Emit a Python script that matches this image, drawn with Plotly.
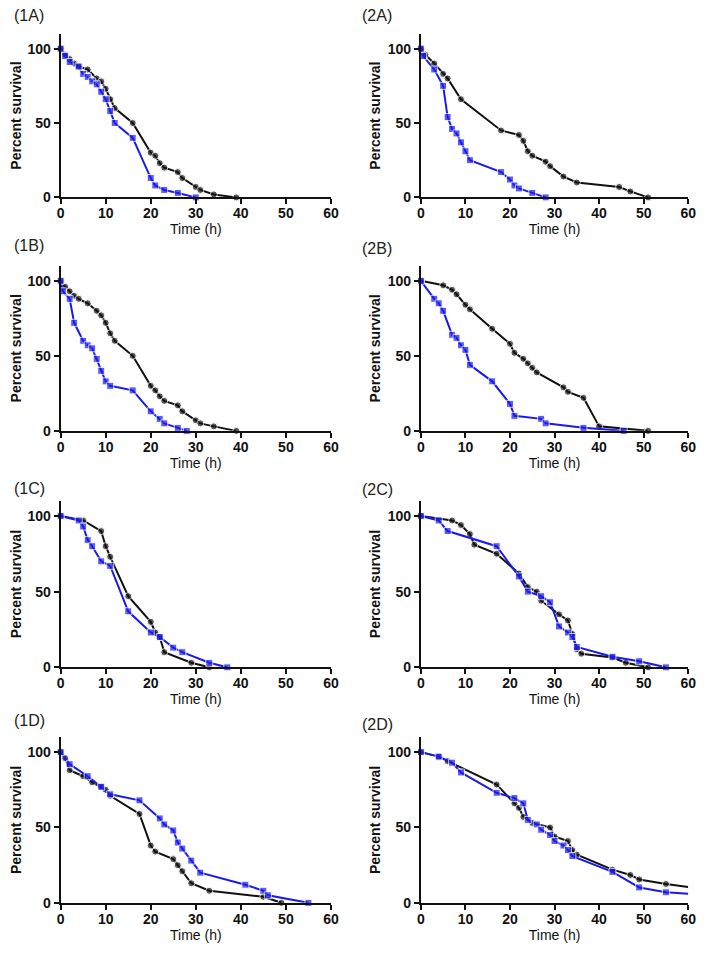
import plotly.graph_objects as go

# ---------------- data ----------------
panel_labels = ["(1A)", "(2A)", "(1B)", "(2B)", "(1C)", "(2C)", "(1D)", "(2D)"]
x_ticks = [0, 10, 20, 30, 40, 50, 60]
y_ticks = [0, 50, 100]

# 1A
black_1A_x = [0, 1, 2, 3, 4, 6, 8, 9, 10, 11, 12, 16, 20, 21, 22, 23, 26, 27, 30, 31, 34, 39]
black_1A_y = [100, 96, 93, 90, 88, 86, 80, 78, 73, 66, 60, 50, 30, 28, 23, 20, 17, 13, 7, 5, 2, 0]
blue_1A_x = [0, 1, 2, 4, 5, 6, 7, 8, 9, 10, 11, 12, 16, 20, 21, 23, 26, 30]
blue_1A_y = [100, 95, 91, 88, 83, 81, 78, 76, 71, 66, 58, 50, 40, 13, 8, 5, 3, 0]

# 2A
black_2A_x = [0, 1, 3, 5, 6, 9, 18, 22, 23, 24, 25, 28, 29, 32, 35, 44.5, 47, 51]
black_2A_y = [100, 96, 90, 83, 80, 66, 45, 42, 38, 31, 28, 24, 21, 14, 10, 7, 4, 0]
blue_2A_x = [0, 0.5, 3, 5, 6, 7, 8, 9, 10, 11, 18, 20, 21, 22, 25, 28]
blue_2A_y = [100, 95, 86, 75, 54, 46, 43, 37, 31, 25, 17, 12, 8, 6, 3, 0]

# 1B
black_1B_x = [0, 1, 2, 3, 4, 6, 8, 9, 10, 11, 12, 16, 20, 21, 22, 23, 26, 27, 30, 31, 34, 39]
black_1B_y = [100, 96, 93, 90, 88, 85, 80, 77, 72, 65, 60, 50, 30, 27, 23, 20, 17, 13, 7, 5, 3, 0]
blue_1B_x = [0, 0.5, 2, 3, 5, 6, 7, 8, 9, 10, 11, 16, 20, 22, 23, 26, 28]
blue_1B_y = [100, 93, 88, 72, 60, 57, 55, 48, 40, 33, 30, 27, 13, 8, 5, 2, 0]

# 2B
black_2B_x = [0, 5, 7, 8, 10, 11, 16, 20, 21, 23, 24, 25, 26, 32, 33, 36.5, 40, 51]
black_2B_y = [100, 97, 94, 91, 84, 81, 68, 58, 52, 48, 45, 42, 39, 29, 26, 22, 3, 0]
blue_2B_x = [0, 3, 4, 5, 7, 8, 9, 10, 11, 16, 20, 21, 27, 28, 36.5, 45.5]
blue_2B_y = [100, 88, 85, 80, 64, 62, 57, 54, 44, 33, 18, 10, 8, 5, 2, 0]

# 1C
black_1C_x = [0, 5, 9, 10, 11, 15, 20, 21, 22, 23, 29, 33]
black_1C_y = [100, 97, 90, 80, 73, 47, 30, 23, 20, 10, 3, 0]
blue_1C_x = [0, 4, 5, 6, 7, 9, 11, 15, 20, 22, 25, 27, 33, 37]
blue_1C_y = [100, 97, 93, 84, 80, 70, 67, 37, 23, 20, 13, 10, 3, 0]

# 2C
black_2C_x = [0, 7, 9, 11, 12, 17, 22, 24, 26, 27, 31, 33, 34, 35, 36, 43, 46, 51]
black_2C_y = [100, 97, 94, 88, 81, 75, 62, 53, 50, 44, 35, 31, 22, 12, 9, 6.5, 3, 0]
blue_2C_x = [0, 4, 6, 17, 22, 24, 27, 29, 31, 33, 34, 35, 43, 49, 55]
blue_2C_y = [100, 97, 90, 80, 60, 50, 47, 43, 27, 23, 20, 13.5, 7, 4, 0]

# 1D
black_1D_x = [0, 1, 2, 5, 7, 9, 10, 11, 17.5, 20, 21, 25, 26, 27, 29, 33, 45, 49]
black_1D_y = [100, 96, 88, 84, 80, 77, 75, 71, 59, 38, 34, 29, 25, 21, 13, 8, 4, 0]
blue_1D_x = [0, 2, 6, 9, 11, 17.5, 22, 23, 25, 26, 27, 29, 31, 41, 45, 46, 55]
blue_1D_y = [100, 92, 84, 77, 72, 68, 56, 52, 48, 40, 36, 28, 20, 12, 8, 5, 0]

# 2D (curves continue to the right edge of the axis)
black_2D_x = [0, 4, 6, 17, 21, 22, 23, 25, 29, 30, 33, 34, 35, 43, 47, 49, 55, 60]
black_2D_y = [100, 97, 94, 78.5, 66, 63, 57, 53, 50, 44, 41, 35, 32, 22, 18.5, 15.5, 12.5, 10.5]
blue_2D_x = [0, 4, 7, 9, 17, 21, 23, 24, 26, 27, 29, 30, 32, 33, 34, 43, 49, 55, 60]
blue_2D_y = [100, 97, 93, 86.5, 73, 69.5, 66, 55, 52, 48.5, 45, 41, 38, 35, 31, 20.5, 10.2, 7, 6]

black_series = [(black_1A_x, black_1A_y), (black_2A_x, black_2A_y),
                (black_1B_x, black_1B_y), (black_2B_x, black_2B_y),
                (black_1C_x, black_1C_y), (black_2C_x, black_2C_y),
                (black_1D_x, black_1D_y), (black_2D_x, black_2D_y)]
blue_series = [(blue_1A_x, blue_1A_y), (blue_2A_x, blue_2A_y),
               (blue_1B_x, blue_1B_y), (blue_2B_x, blue_2B_y),
               (blue_1C_x, blue_1C_y), (blue_2C_x, blue_2C_y),
               (blue_1D_x, blue_1D_y), (blue_2D_x, blue_2D_y)]

# ---------------- layout geometry ----------------
# The page body has an 8px default margin, so the figure starts at (8, 8).
OFF = 8
W, H = 709 - OFF, 956 - 2 * OFF


def px_x(p):
    return (p - OFF) / W


def px_y(p):
    return 1 - (p - OFF) / H


col_px = [(57.5, 332.5), (424, 696)]
row_px = [(34, 199), (268, 434.5), (505, 673), (743.3, 910.5)]  # (top, bottom) pixel rows
label_px = [(3, 16), (362, 16), (3, 248), (362, 251), (3, 493), (362, 494), (3, 727), (362, 731)]

BLACK = "#111111"
BLUE = "#1a1aee"
FONT = "Liberation Sans, Arial, sans-serif"

fig = go.Figure()
layout = dict(width=W, height=H, margin=dict(l=0, r=0, t=0, b=0),
              paper_bgcolor="white", plot_bgcolor="white", showlegend=False,
              annotations=[])

for i in range(8):
    r, c = divmod(i, 2)
    n = i + 1
    xa = "x" if n == 1 else f"x{n}"
    ya = "y" if n == 1 else f"y{n}"
    top, bot = row_px[r]
    left, right = col_px[c]
    xkey = "xaxis" if n == 1 else f"xaxis{n}"
    ykey = "yaxis" if n == 1 else f"yaxis{n}"
    layout[xkey] = dict(domain=[max(0, px_x(left)), min(1, px_x(right))], anchor=ya, range=[0, 60],
                        tickvals=x_ticks, showline=True, linewidth=2, linecolor=BLACK,
                        ticks="outside", ticklen=5, tickwidth=2, tickcolor=BLACK,
                        showgrid=False, zeroline=False, ticklabelstandoff=-3,
                        tickfont=dict(family=FONT, size=14, color=BLACK, weight="bold"),
                        title=dict(text="Time (h)", standoff=0,
                                   font=dict(family=FONT, size=14, color=BLACK)))
    layout[ykey] = dict(domain=[px_y(bot), px_y(top)], anchor=xa, range=[0, 110],
                        tickvals=y_ticks, showline=True, linewidth=2, linecolor=BLACK,
                        ticks="outside", ticklen=5, tickwidth=2, tickcolor=BLACK,
                        showgrid=False, zeroline=False,
                        tickfont=dict(family=FONT, size=14, color=BLACK, weight="bold"),
                        title=dict(text="Percent survival", standoff=4,
                                   font=dict(family=FONT, size=14, color=BLACK, weight="bold")))

    bx, by = black_series[i]
    ux, uy = blue_series[i]
    bsize = [0 if x >= 60 else 7 for x in bx]
    usize = [0 if x >= 60 else 7 for x in ux]
    fig.add_trace(go.Scatter(x=bx, y=by, mode="lines+markers", xaxis=xa, yaxis=ya,
                             line=dict(color=BLACK, width=2),
                             marker=dict(symbol="circle", size=bsize, color=BLACK),
                             cliponaxis=False))
    fig.add_trace(go.Scatter(x=ux, y=uy, mode="lines+markers", xaxis=xa, yaxis=ya,
                             line=dict(color=BLUE, width=2),
                             marker=dict(symbol="square", size=usize, color=BLUE),
                             cliponaxis=False))

    lx, ly = label_px[i]
    layout["annotations"].append(dict(text=panel_labels[i], xref="paper", yref="paper",
                                      x=max(0, px_x(lx)), y=px_y(ly), xanchor="left", yanchor="middle",
                                      showarrow=False,
                                      font=dict(family=FONT, size=16, color="#222222")))

fig.update_layout(**layout)
fig.write_html("out.html")
